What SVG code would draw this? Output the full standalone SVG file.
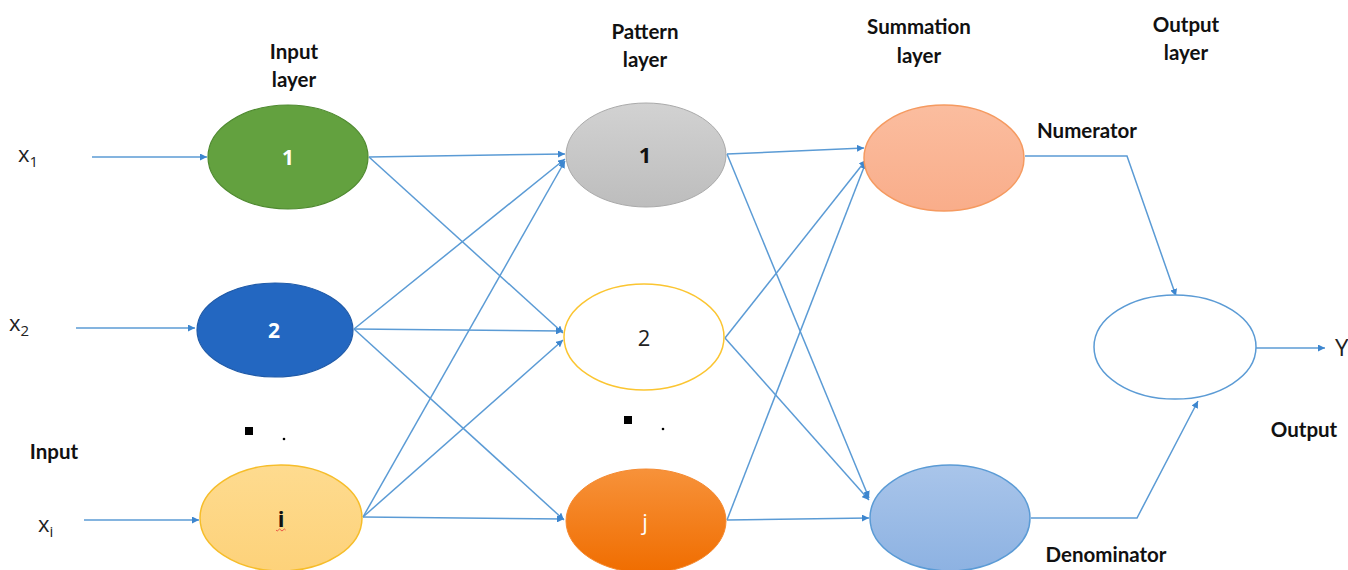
<svg xmlns="http://www.w3.org/2000/svg" width="1348" height="570" viewBox="0 0 1348 570">
<defs>
<style>
.lbl{font-family:Lato,"Liberation Sans",sans-serif;font-weight:bold;font-size:20.5px;fill:#111;text-anchor:middle}
.var{font-family:"Open Sans","Liberation Sans",sans-serif;font-size:22px;fill:#222}
.sub{font-family:"Open Sans","Liberation Sans",sans-serif;font-size:15px;fill:#222}
.num{font-family:"Open Sans","Liberation Sans",sans-serif;font-size:22px;text-anchor:middle}
.c{fill:none;stroke:#5b9bd5;stroke-width:1.5}
</style>
<marker id="ah" viewBox="0 0 10 10" refX="10" refY="5" markerWidth="7" markerHeight="7" orient="auto" markerUnits="userSpaceOnUse">
<path d="M0,0 L10,5 L0,10 z" fill="#3d86cf"/>
</marker>
<linearGradient id="gGray" x1="0" y1="0" x2="0" y2="1"><stop offset="0" stop-color="#d2d2d2"/><stop offset="1" stop-color="#bdbdbd"/></linearGradient>
<linearGradient id="gOrange" x1="0" y1="0" x2="0" y2="1"><stop offset="0" stop-color="#f7923a"/><stop offset="1" stop-color="#f06d00"/></linearGradient>
<linearGradient id="gYellow" x1="0" y1="0" x2="0" y2="1"><stop offset="0" stop-color="#fedb8f"/><stop offset="1" stop-color="#fdd27a"/></linearGradient>
<linearGradient id="gPeach" x1="0" y1="0" x2="0" y2="1"><stop offset="0" stop-color="#fbbd9f"/><stop offset="1" stop-color="#f9ad8a"/></linearGradient>
<linearGradient id="gBlue" x1="0" y1="0" x2="0" y2="1"><stop offset="0" stop-color="#a9c5ea"/><stop offset="1" stop-color="#8db2e2"/></linearGradient>
</defs>
<rect width="1348" height="570" fill="#fff"/>

<g id="labels">
<text class="lbl" x="294" y="59">Input</text>
<text class="lbl" x="294" y="87">layer</text>
<text class="lbl" x="645" y="39">Pattern</text>
<text class="lbl" x="645" y="67">layer</text>
<text class="lbl" x="919" y="34">Summation</text>
<text class="lbl" x="919" y="63">layer</text>
<text class="lbl" x="1186" y="32">Output</text>
<text class="lbl" x="1186" y="60">layer</text>
<text class="lbl" x="1087" y="138">Numerator</text>
<text class="lbl" x="1106" y="562">Denominator</text>
<text class="lbl" x="1304" y="437">Output</text>
<text class="lbl" x="54" y="459">Input</text>
<text class="var" x="18" y="162">x<tspan class="sub" dy="5">1</tspan></text>
<text class="var" x="9" y="331">x<tspan class="sub" dy="5">2</tspan></text>
<text class="var" x="38" y="532">x<tspan class="sub" dy="5">i</tspan></text>
<text class="var" x="1335" y="356" style="font-size:24px">Y</text>
<rect x="245" y="427" width="8" height="8" fill="#000"/>
<circle cx="284" cy="439" r="1.3" fill="#000"/>
<rect x="624" y="416" width="8" height="8" fill="#000"/>
<circle cx="663" cy="429" r="1.3" fill="#000"/>
</g>

<g id="connectors">
<line class="c" x1="92" y1="157" x2="207" y2="157" marker-end="url(#ah)"/>
<line class="c" x1="76" y1="328" x2="195" y2="328" marker-end="url(#ah)"/>
<line class="c" x1="84" y1="520" x2="199" y2="520" marker-end="url(#ah)"/>
<line class="c" x1="369" y1="157" x2="565" y2="154" marker-end="url(#ah)"/>
<line class="c" x1="369" y1="157" x2="563" y2="333" marker-end="url(#ah)"/>
<line class="c" x1="354" y1="329" x2="565" y2="159" marker-end="url(#ah)"/>
<line class="c" x1="354" y1="329" x2="563" y2="331" marker-end="url(#ah)"/>
<line class="c" x1="354" y1="329" x2="564" y2="520" marker-end="url(#ah)"/>
<line class="c" x1="363" y1="517" x2="565" y2="161" marker-end="url(#ah)"/>
<line class="c" x1="363" y1="517" x2="563" y2="340" marker-end="url(#ah)"/>
<line class="c" x1="363" y1="517" x2="564" y2="519" marker-end="url(#ah)"/>
<line class="c" x1="727" y1="154" x2="864" y2="148" marker-end="url(#ah)"/>
<line class="c" x1="727" y1="154" x2="869" y2="498" marker-end="url(#ah)"/>
<line class="c" x1="725" y1="338" x2="866" y2="160" marker-end="url(#ah)"/>
<line class="c" x1="725" y1="338" x2="869" y2="500" marker-end="url(#ah)"/>
<line class="c" x1="727" y1="520" x2="866" y2="162" marker-end="url(#ah)"/>
<line class="c" x1="727" y1="520" x2="869" y2="518" marker-end="url(#ah)"/>
<polyline class="c" points="1025,156 1127,156 1176,296" marker-end="url(#ah)"/>
<polyline class="c" points="1031,518 1137,518 1198,401" marker-end="url(#ah)"/>
<line class="c" x1="1256" y1="348" x2="1325" y2="348" marker-end="url(#ah)"/>
</g>

<g id="in1"><ellipse cx="288" cy="157" rx="80" ry="52" fill="#63a13f" stroke="#4f8a30" stroke-width="1.2"/><text class="num" x="288" y="165" fill="#fff" font-weight="bold" style="font-size:21px">1</text></g>
<g id="in2"><ellipse cx="275" cy="330" rx="78" ry="47" fill="#2367c1" stroke="#1f5aa8" stroke-width="1.2"/><text class="num" x="274" y="338" fill="#fff" font-weight="bold" style="font-size:21px">2</text></g>
<g id="ini"><ellipse cx="281" cy="518" rx="81" ry="53" fill="url(#gYellow)" stroke="#f6bd2a" stroke-width="1.5"/><text class="num" x="281" y="527" fill="#111" font-weight="bold" style="font-size:22px">i</text><path d="M276,530 q1.2,2 2.4,0 t2.4,0 t2.4,0 t2.4,0" fill="none" stroke="#e53935" stroke-width="0.8"/></g>

<g id="pat1"><ellipse cx="646" cy="155" rx="80" ry="52" fill="url(#gGray)" stroke="#aaaaaa" stroke-width="1"/><text class="num" x="645" y="163" fill="#111" font-weight="bold">1</text></g>
<g id="pat2"><ellipse cx="644" cy="337" rx="80" ry="53" fill="#fff" stroke="#fbc531" stroke-width="1.5"/><text class="num" x="644" y="346" fill="#222">2</text></g>
<g id="patj"><ellipse cx="646" cy="521" rx="80" ry="52" fill="url(#gOrange)" stroke="#f58a30" stroke-width="1"/><text class="num" x="645" y="530" fill="#fff">j</text></g>

<g id="numerator"><ellipse cx="944" cy="158" rx="80" ry="53" fill="url(#gPeach)" stroke="#f59a60" stroke-width="1.5"/></g>
<g id="denominator"><ellipse cx="950" cy="518" rx="80" ry="53" fill="url(#gBlue)" stroke="#5b9bd5" stroke-width="1.5"/></g>
<g id="output"><ellipse cx="1175" cy="347" rx="81" ry="52" fill="#fff" stroke="#5b9bd5" stroke-width="1.5"/></g>
</svg>
